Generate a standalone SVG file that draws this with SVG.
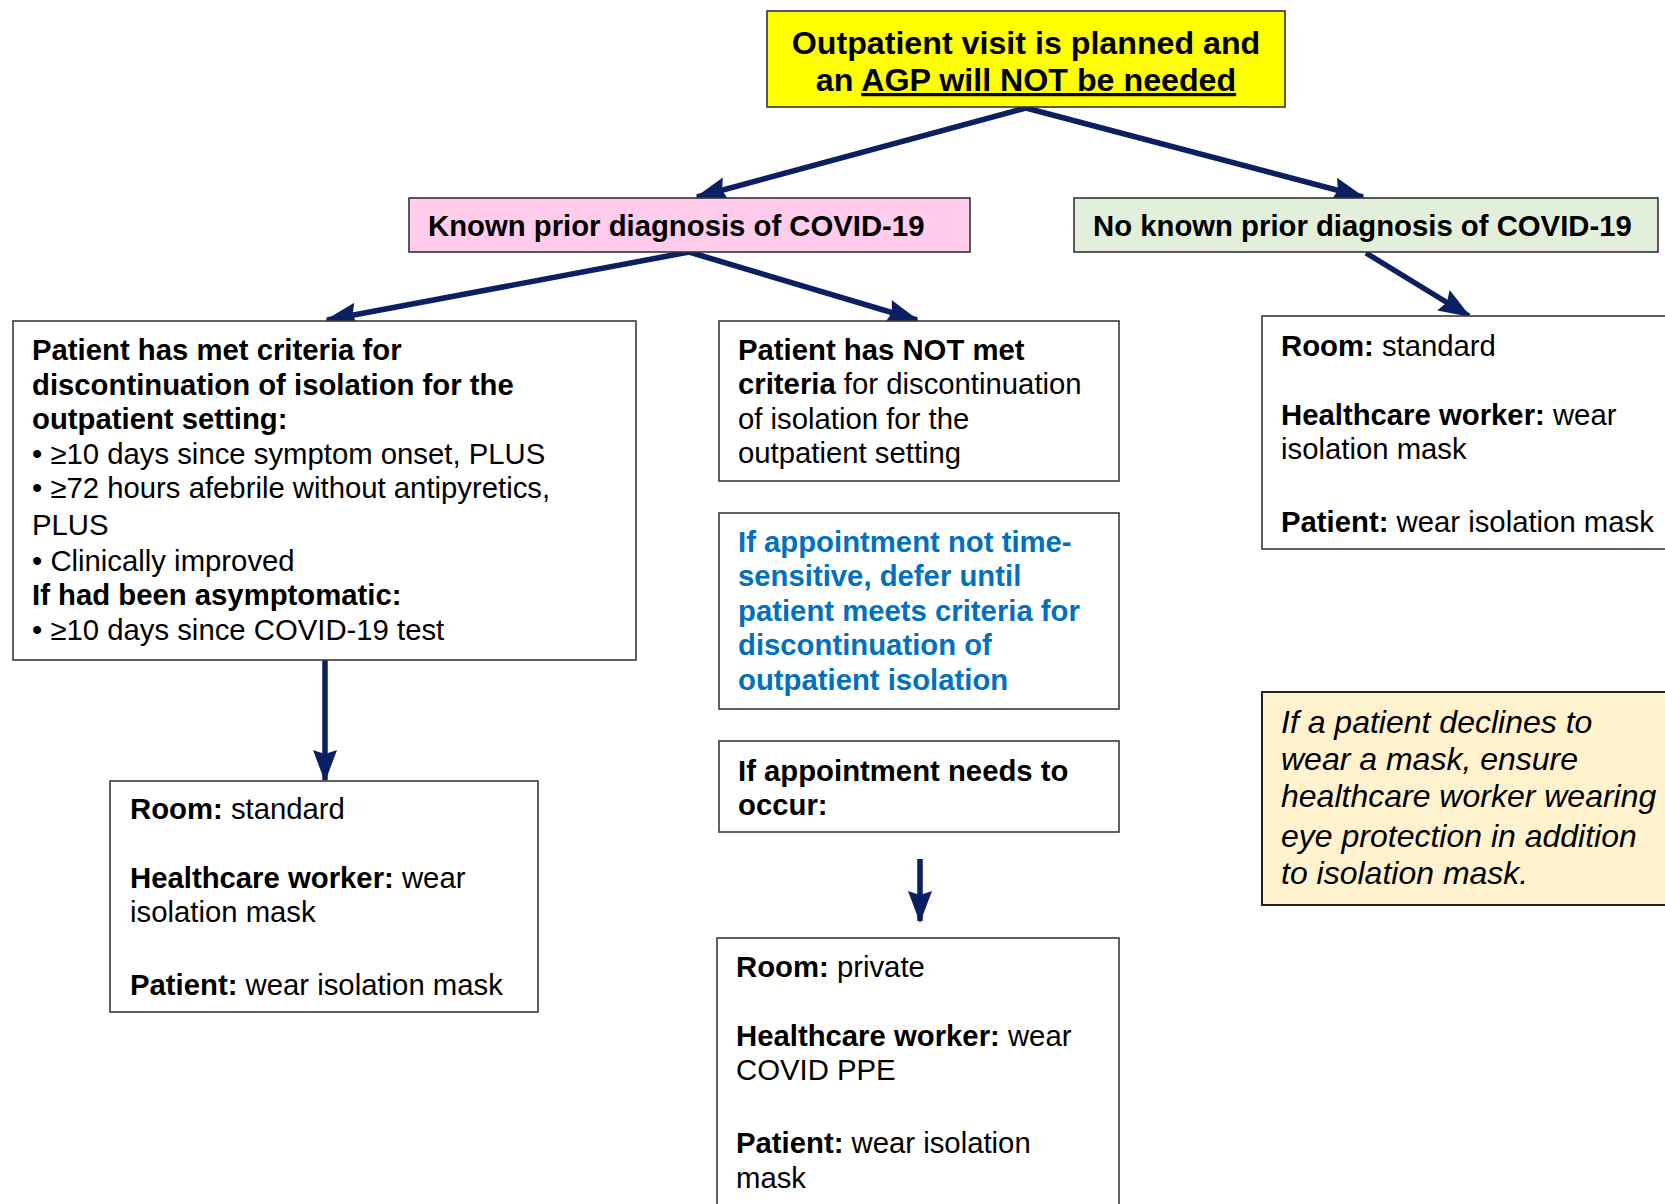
<svg xmlns="http://www.w3.org/2000/svg" width="1665" height="1204" viewBox="0 0 1665 1204">
<style>
.box{fill:#fff;stroke:#3a3a3a;stroke-width:1.6}
.t{font-family:"Liberation Sans",Arial,sans-serif;font-size:29.3px;fill:#000}
.b{font-weight:bold}
.title{font-size:32.2px}
.blue{fill:#0070C0;font-weight:bold}
.it{font-style:italic;font-size:32px}
.con{stroke:#0B2060;stroke-width:5.5;fill:none}
</style>
<defs>
<marker id="ah" markerUnits="userSpaceOnUse" markerWidth="34" markerHeight="34" viewBox="0 0 34 34" refX="30" refY="17" orient="auto">
<path d="M0,5 L32,17 L0,29 L4,17 Z" fill="#0B2060"/>
</marker>
</defs>
<rect width="1665" height="1204" fill="#fff"/>
<g id="connectors">
<line class="con" x1="1026" y1="108" x2="697" y2="197" marker-end="url(#ah)"/>
<line class="con" x1="1026" y1="108" x2="1363" y2="197" marker-end="url(#ah)"/>
<line class="con" x1="689" y1="252" x2="327" y2="320" marker-end="url(#ah)"/>
<line class="con" x1="689" y1="252" x2="917" y2="320" marker-end="url(#ah)"/>
<line class="con" x1="1366" y1="253" x2="1469" y2="316" marker-end="url(#ah)"/>
<line class="con" x1="325" y1="660" x2="325" y2="780" marker-end="url(#ah)"/>
<line class="con" x1="920" y1="859" x2="920" y2="921" marker-end="url(#ah)"/>
</g>
<g id="start">
<rect x="767" y="11" width="518" height="96" fill="#FFFF00" stroke="#333" stroke-width="1.6"/>
<text class="t b title" x="1026" y="54" text-anchor="middle">Outpatient visit is planned and</text>
<text class="t b title" x="1026" y="91" text-anchor="middle">an <tspan text-decoration="underline">AGP will NOT be needed</tspan></text>
</g>
<g id="known">
<rect x="409" y="198" width="561" height="54" fill="#FFCCEC" stroke="#333" stroke-width="1.6"/>
<text class="t b" x="428" y="236">Known prior diagnosis of COVID-19</text>
</g>
<g id="noknown">
<rect x="1074" y="198" width="584" height="54" fill="#E2EFDA" stroke="#333" stroke-width="1.6"/>
<text class="t b" x="1093" y="236">No known prior diagnosis of COVID-19</text>
</g>
<g id="met">
<rect class="box" x="13" y="321" width="623" height="339"/>
<text class="t b" x="32" y="360">Patient has met criteria for</text>
<text class="t b" x="32" y="395">discontinuation of isolation for the</text>
<text class="t b" x="32" y="429">outpatient setting:</text>
<text class="t" x="32" y="464">• ≥10 days since symptom onset, PLUS</text>
<text class="t" x="32" y="498">• ≥72 hours afebrile without antipyretics,</text>
<text class="t" x="32" y="535">PLUS</text>
<text class="t" x="32" y="571">• Clinically improved</text>
<text class="t b" x="32" y="605">If had been asymptomatic:</text>
<text class="t" x="32" y="640">• ≥10 days since COVID-19 test</text>
</g>
<g id="met-ppe">
<rect class="box" x="110" y="781" width="428" height="231"/>
<text class="t" x="130" y="819"><tspan class="b">Room:</tspan> standard</text>
<text class="t" x="130" y="888"><tspan class="b">Healthcare worker:</tspan> wear</text>
<text class="t" x="130" y="922">isolation mask</text>
<text class="t" x="130" y="995"><tspan class="b">Patient:</tspan> wear isolation mask</text>
</g>
<g id="notmet">
<rect class="box" x="719" y="321" width="400" height="160"/>
<text class="t b" x="738" y="360">Patient has NOT met</text>
<text class="t" x="738" y="394"><tspan class="b">criteria</tspan> for discontinuation</text>
<text class="t" x="738" y="429">of isolation for the</text>
<text class="t" x="738" y="463">outpatient setting</text>
</g>
<g id="defer">
<rect class="box" x="719" y="513" width="400" height="196"/>
<text class="t blue" x="738" y="552">If appointment not time-</text>
<text class="t blue" x="738" y="586">sensitive, defer until</text>
<text class="t blue" x="738" y="621">patient meets criteria for</text>
<text class="t blue" x="738" y="655">discontinuation of</text>
<text class="t blue" x="738" y="690">outpatient isolation</text>
</g>
<g id="occur">
<rect class="box" x="719" y="741" width="400" height="91"/>
<text class="t b" x="738" y="781">If appointment needs to</text>
<text class="t b" x="738" y="815">occur:</text>
</g>
<g id="notmet-ppe">
<rect class="box" x="717" y="938" width="402" height="280"/>
<text class="t" x="736" y="977"><tspan class="b">Room:</tspan> private</text>
<text class="t" x="736" y="1046"><tspan class="b">Healthcare worker:</tspan> wear</text>
<text class="t" x="736" y="1080">COVID PPE</text>
<text class="t" x="736" y="1153"><tspan class="b">Patient:</tspan> wear isolation</text>
<text class="t" x="736" y="1188">mask</text>
</g>
<g id="noknown-ppe">
<rect class="box" x="1262" y="316" width="420" height="233"/>
<text class="t" x="1281" y="356"><tspan class="b">Room:</tspan> standard</text>
<text class="t" x="1281" y="425"><tspan class="b">Healthcare worker:</tspan> wear</text>
<text class="t" x="1281" y="459">isolation mask</text>
<text class="t" x="1281" y="532"><tspan class="b">Patient:</tspan> wear isolation mask</text>
</g>
<g id="note">
<rect x="1262" y="692" width="420" height="213" fill="#FFF2CC" stroke="#222" stroke-width="2"/>
<text class="t it" x="1281" y="733">If a patient declines to</text>
<text class="t it" x="1281" y="770">wear a mask, ensure</text>
<text class="t it" x="1281" y="807">healthcare worker wearing</text>
<text class="t it" x="1281" y="847">eye protection in addition</text>
<text class="t it" x="1281" y="884">to isolation mask.</text>
</g>
</svg>
